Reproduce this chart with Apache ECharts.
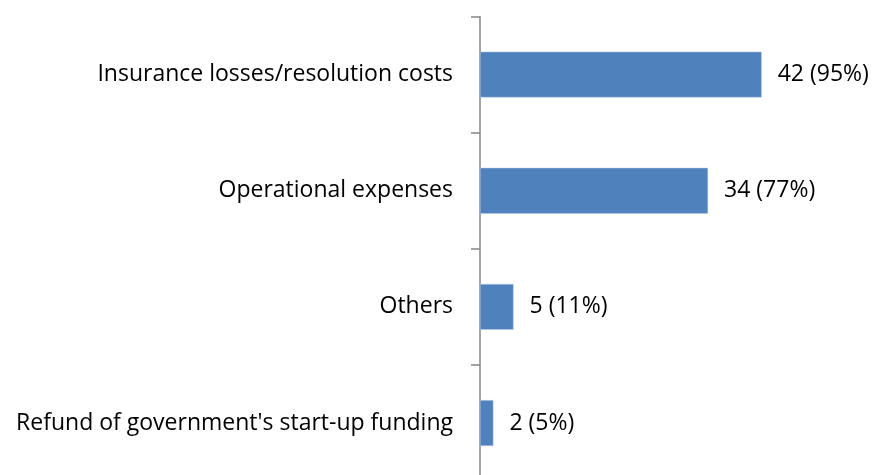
<!DOCTYPE html>
<html><head><meta charset="utf-8">
<script src="https://cdn.jsdelivr.net/npm/echarts@6/dist/echarts.min.js"></script>
<style>html,body{margin:0;padding:0;background:#fff;overflow:hidden}#c{width:872px;height:495px}</style>
</head><body><div id="c"></div>
<script>
const categories = ["Insurance losses/resolution costs", "Operational expenses", "Others", "Refund of government's start-up funding"];
const counts = [42, 34, 5, 2];
const percents = [95, 77, 11, 5];

const FONT = 'Open Sans';
const chart = echarts.init(document.getElementById('c'), null, {renderer: 'canvas'});
chart.setOption({
  animation: false,
  grid: {left: 480, top: 16.5, width: 335.35, height: 464.6, containLabel: false},
  xAxis: {type: 'value', min: 0, max: 50, show: false},
  yAxis: {
    type: 'category', data: categories, inverse: true,
    axisLine: {show: true, lineStyle: {color: '#868686', width: 1.5}},
    axisTick: {show: true, length: 9, lineStyle: {color: '#868686', width: 1.5}},
    axisLabel: {margin: 27, fontFamily: FONT, fontSize: 23, color: '#000'},
    splitLine: {show: false}
  },
  series: [{
    type: 'bar', data: counts, barWidth: '39.5%',
    itemStyle: {color: '#4f81bd', borderColor: '#b9cde5', borderWidth: 0.5},
    label: {show: true, position: 'right', distance: 16, fontFamily: FONT, fontSize: 23, color: '#000',
      formatter: p => counts[p.dataIndex] + ' (' + percents[p.dataIndex] + '%)'}
  }]
});
</script></body></html>
